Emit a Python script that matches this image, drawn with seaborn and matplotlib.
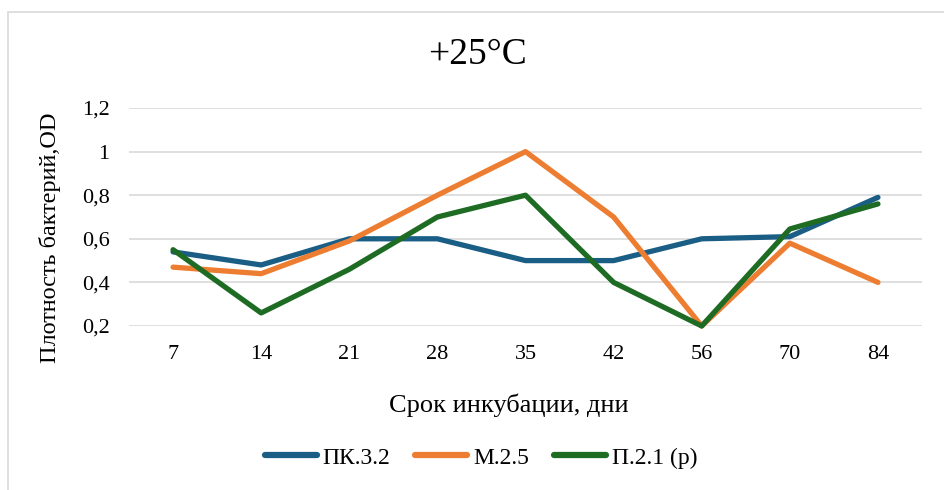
import matplotlib
matplotlib.use("Agg")
import matplotlib.pyplot as plt
import seaborn as sns
import pandas as pd
from matplotlib.patches import Rectangle
from matplotlib.ticker import FuncFormatter

days = ["7", "14", "21", "28", "35", "42", "56", "70", "84"]
pk32 = [0.54, 0.48, 0.60, 0.60, 0.50, 0.50, 0.60, 0.61, 0.79]
m25 = [0.47, 0.44, 0.59, 0.80, 1.00, 0.70, 0.20, 0.58, 0.40]
p21 = [0.55, 0.26, 0.46, 0.70, 0.80, 0.40, 0.20, 0.645, 0.76]
series_names = ["ПК.3.2", "М.2.5", "П.2.1 (р)"]
colors = ["#1B5E85", "#ED7D31", "#1E6B24"]

rows = []
for name, vals in zip(series_names, [pk32, m25, p21]):
    for d, v in zip(days, vals):
        rows.append({"day": d, "od": v, "series": name})
df = pd.DataFrame(rows)

sns.set_theme(style="white")
plt.rcParams["font.family"] = ["Liberation Serif", "DejaVu Serif"]
plt.rcParams["text.color"] = "black"
plt.rcParams["axes.labelcolor"] = "black"

fig = plt.figure(figsize=(9.44, 4.9), dpi=100)
fig.patches.append(Rectangle((8 / 944, -0.1), 1.0, 1 - 12 / 490 + 0.1,
                             transform=fig.transFigure, fill=False,
                             edgecolor="#D9D9D9", linewidth=1.2))
ax = fig.add_axes([129 / 944, 1 - 326 / 490, (922 - 129) / 944, (326 - 108) / 490])

sns.lineplot(data=df, x="day", y="od", hue="series", palette=colors,
             linewidth=3.8, sort=False, ax=ax, legend=True)
for ln in ax.lines:
    ln.set_clip_on(False)
    ln.set_solid_capstyle("round")
    ln.set_solid_joinstyle("round")

ax.set_ylim(0.2, 1.2)
ax.set_xlim(-0.5, len(days) - 0.5)
ax.set_yticks([0.2, 0.4, 0.6, 0.8, 1.0, 1.2])
ax.yaxis.set_major_formatter(FuncFormatter(lambda v, p: ("%g" % round(v, 1)).replace(".", ",")))
ax.grid(axis="y", color="#D9D9D9", linewidth=1.2)
ax.set_axisbelow(True)
for s in ax.spines.values():
    s.set_visible(False)
ax.tick_params(axis="y", length=0, pad=14, labelsize=16, labelcolor="#000000")
ax.tick_params(axis="x", length=0, pad=14, labelsize=16, labelcolor="#000000")

ax.set_xlabel("Срок инкубации, дни", fontsize=19, color="black")
ax.set_ylabel("Плотность бактерий,OD", fontsize=17.5, color="black")
ax.xaxis.set_label_coords((509 - 129) / (922 - 129), -(405 - 326) / (326 - 108))
ax.yaxis.set_label_coords(-(129 - 50) / (922 - 129), (326 - 238) / (326 - 108))
ax.xaxis.label.set_va("center")
ax.yaxis.label.set_va("center")
fig.text(478 / 944, 1 - 55 / 490, "+25°C", fontsize=27, ha="center", va="center")

handles, labels = ax.get_legend_handles_labels()
for h in handles:
    h.set_linewidth(4.5)
    h.set_solid_capstyle("round")
leg = ax.legend(handles, labels, loc="center", bbox_to_anchor=(481 / 944, 1 - 458 / 490),
                bbox_transform=fig.transFigure, ncol=3, frameon=False, fontsize=17,
                handlelength=2.2, handletextpad=0.25, columnspacing=1.05)

fig.savefig("out.png", dpi=100)
